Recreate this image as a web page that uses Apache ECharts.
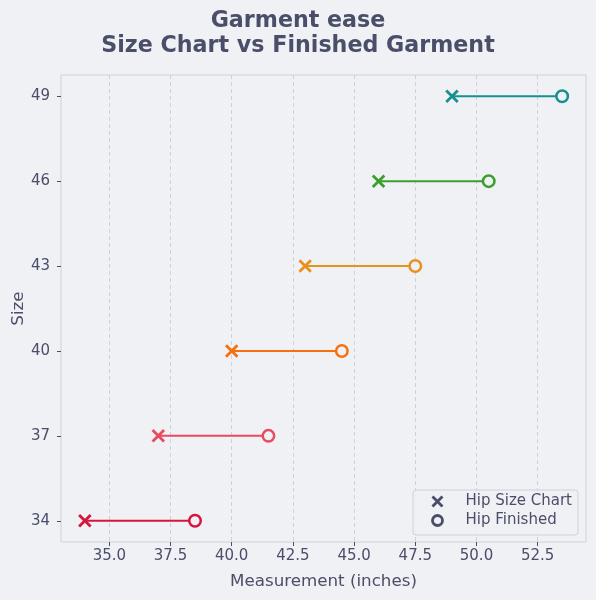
<!DOCTYPE html>
<html>
<head>
<meta charset="utf-8">
<script src="https://cdn.jsdelivr.net/npm/echarts@6/dist/echarts.min.js"></script>
<style>html,body{margin:0;padding:0;background:#f0f1f5;}#c{width:596px;height:600px;}</style>
</head>
<body>
<div id="c"></div>
<script>
const sizes = [34, 37, 40, 43, 46, 49];
const sizeChart = [34, 37, 40, 43, 46, 49];
const finished = [38.5, 41.5, 44.5, 47.5, 50.5, 53.5];
const colors = ['#d7153c', '#e84a5f', '#f7700f', '#e8921e', '#3aa02b', '#16918f'];
const xTicks = [35, 37.5, 40, 42.5, 45, 47.5, 50, 52.5];
const yTicks = [34, 37, 40, 43, 46, 49];

const dark = '#4a4e69';
const bg = '#f0f1f5';
const font = 'DejaVu Sans';
const xPath = 'path://M0,0 L10,10 M10,0 L0,10';

const series = [];
sizes.forEach((s, i) => {
  series.push({
    type: 'line',
    data: [[sizeChart[i], s], [finished[i], s]],
    showSymbol: false,
    symbol: 'none',
    lineStyle: { color: colors[i], width: 2, opacity: 1 },
    silent: true,
    z: 1
  });
});
series.push({
  name: 'Hip Size Chart',
  type: 'scatter',
  symbol: xPath,
  symbolSize: 11.5,
  itemStyle: { color: 'none', borderColor: dark, borderWidth: 2.8, opacity: 1 },
  data: sizes.map((s, i) => ({ value: [sizeChart[i], s], itemStyle: { borderColor: colors[i] } })),
  z: 3
});
series.push({
  name: 'Hip Finished',
  type: 'scatter',
  symbol: 'circle',
  symbolSize: 11.5,
  itemStyle: { color: bg, borderColor: dark, borderWidth: 2.5, opacity: 1 },
  data: sizes.map((s, i) => ({ value: [finished[i], s], itemStyle: { borderColor: colors[i] } })),
  z: 3
});

const chart = echarts.init(document.getElementById('c'));
chart.setOption({
  backgroundColor: bg,
  animation: false,
  textStyle: { fontFamily: font },
  title: {
    text: 'Garment ease\nSize Chart vs Finished Garment',
    left: 'center',
    top: 9,
    padding: 0,
    textStyle: { fontSize: 22.2, fontWeight: 'bold', color: dark, lineHeight: 25, fontFamily: font }
  },
  legend: {
    data: ['Hip Size Chart', 'Hip Finished'],
    orient: 'vertical',
    right: 18,
    bottom: 65,
    itemWidth: 10,
    itemHeight: 10,
    itemGap: 4,
    padding: [4, 6, 7, 17],
    itemStyle: { borderWidth: 2.8 },
    borderColor: '#d0d1db',
    borderWidth: 1,
    borderRadius: 3,
    backgroundColor: 'rgba(240,241,245,0.8)',
    textStyle: { fontSize: 15, color: dark, fontFamily: font, padding: [0, 0, 0, 18] }
  },
  grid: {
    left: 61, right: 10, top: 75, bottom: 58,
    outerBoundsMode: 'none',
    containLabel: false,
    show: true, borderColor: '#cfd0da', borderWidth: 1, backgroundColor: 'transparent'
  },
  xAxis: {
    type: 'value',
    min: 33.025, max: 54.475,
    name: 'Measurement (inches)',
    nameLocation: 'middle',
    nameGap: 31,
    nameMoveOverlap: false,
    nameTextStyle: { fontSize: 16.7, color: dark, fontFamily: font },
    axisLine: { show: false },
    axisTick: { show: true, length: 4, lineStyle: { color: dark }, customValues: xTicks },
    axisLabel: { fontSize: 15, color: dark, fontFamily: font, customValues: xTicks, formatter: v => v.toFixed(1), margin: 7 },
    splitLine: { show: true, lineStyle: { color: '#cfd0da', type: [4, 3], width: 1 } }
  },
  yAxis: {
    type: 'value',
    min: 33.25, max: 49.75,
    name: 'Size',
    nameLocation: 'middle',
    nameGap: 34,
    nameMoveOverlap: false,
    nameTextStyle: { fontSize: 16.7, color: dark, fontFamily: font },
    axisLine: { show: false },
    axisTick: { show: true, length: 4, lineStyle: { color: dark }, customValues: yTicks },
    axisLabel: { fontSize: 15, color: dark, fontFamily: font, customValues: yTicks, margin: 11 },
    splitLine: { show: false }
  },
  series: series
});
</script>
</body>
</html>
